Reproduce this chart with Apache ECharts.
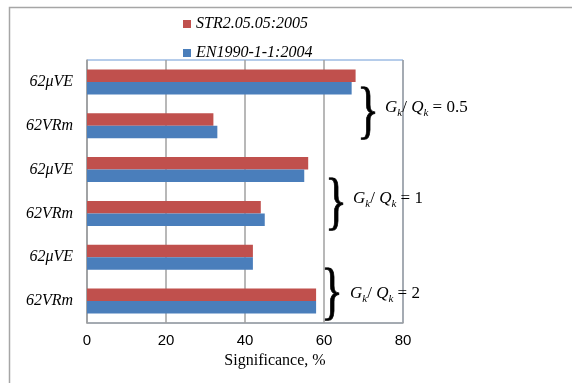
<!DOCTYPE html>
<html><head><meta charset="utf-8">
<script src="https://cdn.jsdelivr.net/npm/echarts@6/dist/echarts.min.js"></script>
<style>html,body{margin:0;padding:0;background:#fff}#c{width:572px;height:383px}</style>
</head><body><div id="c"></div>
<script>
// categories listed bottom to top (ECharts category axis order)
const categories = ['62VRm', '62μVE', '62VRm', '62μVE', '62VRm', '62μVE'];
const strValues = [58, 42, 44, 56, 32, 68];   // STR2.05.05:2005
const enValues  = [58, 42, 45, 55, 33, 67];   // EN1990-1-1:2004
const xTicks = [0, 20, 40, 60, 80];
const groupLabels = ['0.5', '1', '2'];

const serif = '"Liberation Serif", "Times New Roman", serif';
const chart = echarts.init(document.getElementById('c'), null, {renderer: 'canvas'});

function annot(val, x, y) {
  return {
    type: 'text', x: x, y: y, z: 100,
    style: {
      text: '{i|G}{s|k}{n|/ }{i|Q}{s|k}{n| = ' + val + '}',
      verticalAlign: 'middle',
      rich: {
        i: {fontFamily: serif, fontStyle: 'italic', fontSize: 17, lineHeight: 22, verticalAlign: 'middle', fill: '#000'},
        n: {fontFamily: serif, fontSize: 17, lineHeight: 22, verticalAlign: 'middle', fill: '#000'},
        s: {fontFamily: serif, fontStyle: 'italic', fontSize: 11, lineHeight: 22, verticalAlign: 'bottom', fill: '#000'}
      }
    }
  };
}
function brace(x, y) {
  return {
    type: 'text', x: x, y: y, scaleY: 1.4, z: 100,
    style: {text: '}', font: 'normal 46px ' + serif, fill: '#000', verticalAlign: 'middle', align: 'left',
            stroke: '#000', lineWidth: 0.6}
  };
}

chart.setOption({
  animation: false,
  grid: {left: 87, right: 169, top: 60, bottom: 60, show: true, borderColor: '#6d9ad6', borderWidth: 1},
  legend: {
    orient: 'vertical', left: 178, top: 11, itemWidth: 8, itemHeight: 8, itemGap: 13,
    icon: 'rect',
    data: ['STR2.05.05:2005', 'EN1990-1-1:2004'],
    textStyle: {fontFamily: serif, fontStyle: 'italic', fontSize: 16, color: '#000'}
  },
  xAxis: {
    type: 'value', min: xTicks[0], max: xTicks[xTicks.length - 1], interval: 20,
    axisLine: {show: true, lineStyle: {color: '#a0a0a0', width: 1.5}},
    axisTick: {show: false},
    splitLine: {show: true, lineStyle: {color: '#a0a0a0', width: 1.5}},
    axisLabel: {fontFamily: '"Liberation Sans", Arial, sans-serif', fontSize: 15, color: '#000', margin: 10},
    name: 'Significance, %', nameLocation: 'middle', nameGap: 29,
    nameTextStyle: {fontFamily: serif, fontSize: 16, color: '#000', padding: [0, 0, 0, 60]}
  },
  yAxis: {
    type: 'category', data: categories,
    axisLine: {show: true, lineStyle: {color: '#a0a0a0', width: 1.5}},
    axisTick: {show: false},
    axisLabel: {fontFamily: serif, fontStyle: 'italic', fontSize: 16, color: '#000', margin: 14}
  },
  series: [
    {name: 'STR2.05.05:2005', type: 'bar', data: strValues, barWidth: 12.5, barGap: '0%',
     itemStyle: {color: '#C0504D'}},
    {name: 'EN1990-1-1:2004', type: 'bar', data: enValues, barWidth: 12.5, barGap: '0%',
     itemStyle: {color: '#4A7EBB'}}
  ],
  graphic: [
    {type: 'polyline', shape: {points: [[9.5, 383], [9.5, 7.5], [572, 7.5]]}, style: {stroke: '#a6a6a6', lineWidth: 1.5, fill: null}},
    brace(357, 114), annot(groupLabels[0], 385, 108),
    brace(325, 205), annot(groupLabels[1], 353, 199),
    brace(321, 295), annot(groupLabels[2], 350, 294)
  ]
});
</script></body></html>
